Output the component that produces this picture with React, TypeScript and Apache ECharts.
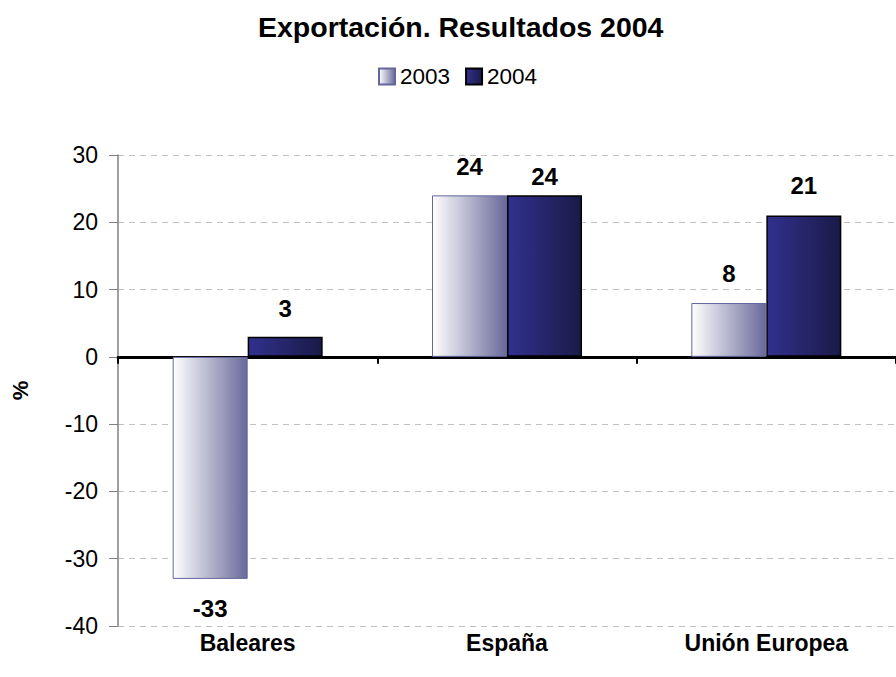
import React, { useEffect, useRef } from "react";
import * as echarts from "echarts";

const categories = ["Baleares", "España", "Unión Europea"];
const seriesNames = ["2003", "2004"];
const values2003 = [-33, 24, 8];
const values2004 = [3, 24, 21];
const yTicks = { min: -40, max: 30, interval: 10 };

const FONT = "Liberation Sans, Arial, sans-serif";

export default function App() {
  const ref = useRef<HTMLDivElement>(null);
  useEffect(() => {
    if (!ref.current) return;
    const chart = echarts.init(ref.current, null, { renderer: "svg" });
    const dist2003 = [18, 17, 18];
    const dist2004 = [16, 7, 18];
    const grad2003 = new echarts.graphic.LinearGradient(0, 0, 1, 0, [
      { offset: 0, color: "#ffffff" },
      { offset: 1, color: "#69699a" },
    ]);
    const grad2004 = new echarts.graphic.LinearGradient(0, 0, 1, 0, [
      { offset: 0, color: "#31318e" },
      { offset: 1, color: "#1a1a48" },
    ]);
    const labelBase = {
      show: true,
      color: "#000",
      fontWeight: "bold" as const,
      fontSize: 24,
      fontFamily: FONT,
    };
    const mk = (vals: number[], dists: number[]) =>
      vals.map((v, i) => ({
        value: v,
        label: { ...labelBase, position: v < 0 ? "bottom" : "top", distance: dists[i] },
      }));
    chart.setOption({
      animation: false,
      backgroundColor: "#fff",
      title: {
        text: "Exportación. Resultados 2004",
        left: 253,
        top: 7,
        textStyle: { fontSize: 28.5, fontWeight: "bold", color: "#000", fontFamily: FONT },
      },
      legend: {
        data: seriesNames,
        top: 60,
        left: 373,
        itemWidth: 16,
        itemHeight: 16,
        itemGap: 15,
        icon: "rect",
        textStyle: { fontSize: 22.5, color: "#000", fontFamily: FONT },
      },
      grid: { left: 118, right: -5, top: 155, bottom: 51, containLabel: false },
      xAxis: [
        {
          type: "category",
          data: categories,
          axisLine: { onZero: true, lineStyle: { color: "#000", width: 3 } },
          axisTick: { show: true, length: 7, lineStyle: { color: "#000", width: 2 } },
          axisLabel: { show: false },
          splitLine: { show: false },
        },
        {
          type: "category",
          data: categories,
          position: "bottom",
          axisLine: { show: false },
          axisTick: { show: false },
          axisLabel: {
            show: true,
            margin: 5,
            fontSize: 23,
            fontWeight: "bold",
            color: "#000",
            fontFamily: FONT,
          },
        },
      ],
      yAxis: {
        type: "value",
        min: yTicks.min,
        max: yTicks.max,
        interval: yTicks.interval,
        name: "%",
        nameLocation: "middle",
        nameRotate: 90,
        nameGap: 87,
        nameTextStyle: { fontSize: 22, fontWeight: "bold", color: "#000", fontFamily: FONT },
        axisLine: { show: true, lineStyle: { color: "#808080", width: 1.5 } },
        axisTick: { show: true, length: 9, lineStyle: { color: "#808080" } },
        axisLabel: { fontSize: 23, color: "#000", fontFamily: FONT, margin: 20 },
        splitLine: { show: true, lineStyle: { color: "#c0c0c0", type: [6, 5], width: 1 } },
      },
      series: [
        {
          name: seriesNames[0],
          type: "bar",
          xAxisIndex: 0,
          data: mk(values2003, dist2003),
          barWidth: 75,
          barGap: "0%",
          itemStyle: { color: grad2003, borderColor: "#66669f", borderWidth: 1 },
        },
        {
          name: seriesNames[1],
          type: "bar",
          xAxisIndex: 0,
          data: mk(values2004, dist2004),
          barWidth: 75,
          barGap: "0%",
          itemStyle: { color: grad2004, borderColor: "#000", borderWidth: 1.5 },
        },
      ],
    });
    return () => chart.dispose();
  }, []);
  return (
    <div
      ref={ref}
      style={{ position: "fixed", left: 0, top: 0, width: 896, height: 677, background: "#fff" }}
    />
  );
}
